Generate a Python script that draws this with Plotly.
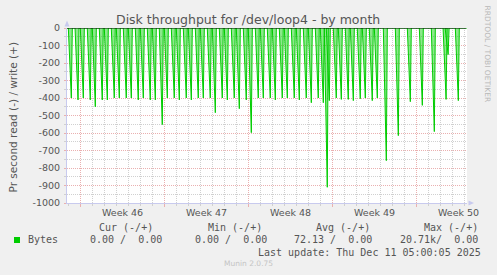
import plotly.graph_objects as go

# ---- data (x in days from the left edge of the plot, y = read bytes/s shown negative) ----
spike_day = [0.36, 0.92, 1.36, 1.94, 2.36, 2.94, 3.36, 3.94, 4.36, 4.94,
             5.36, 5.94, 6.36, 6.94, 7.36, 7.94, 8.36, 8.94, 9.36, 9.94,
             10.36, 10.94, 11.36, 11.94, 12.36, 12.94, 13.36, 13.94, 14.36, 14.94,
             15.36, 15.94, 16.36, 16.94, 17.36, 17.94, 18.36, 18.94, 19.36, 19.94,
             20.36, 20.94, 21.36, 21.69, 21.86, 22.44, 22.86, 23.44, 23.86, 24.44,
             24.86, 25.44, 25.86, 26.61, 27.61, 28.61, 29.61, 30.61, 31.59, 31.76,
             32.61]
spike_val = [-400, -411, -400, -411, -450, -411, -411, -400, -400, -400,
             -400, -411, -400, -411, -411, -552, -400, -400, -411, -400,
             -411, -400, -400, -400, -484, -400, -411, -400, -461, -411,
             -598, -400, -400, -400, -411, -400, -400, -400, -411, -400,
             -427, -400, -427, -910, -415, -400, -408, -408, -415, -404,
             -400, -415, -400, -758, -615, -421, -442, -592, -408, -152,
             -415]

x_span = 33.333
week_major = [1.083, 8.083, 15.083, 22.083, 29.083]
week_label_pos = [4.583, 11.583, 18.583, 25.583, 32.583]
week_labels = ["Week 46", "Week 47", "Week 48", "Week 49", "Week 50"]

y_tickvals = [0, -100, -200, -300, -400, -500, -600, -700, -800, -900, -1000]
y_ticktext = ["0", "-100", "-200", "-300", "-400", "-500", "-600", "-700", "-800", "-900", "-1000"]

legend_headers = ["Cur (-/+)", "Min (-/+)", "Avg (-/+)", "Max (-/+)"]
legend_values = ["0.00 /  0.00", "0.00 /  0.00", "72.13 /  0.00", "20.71k/  0.00"]
series_name = "Bytes"
last_update = "Last update: Thu Dec 11 05:00:05 2025"

# ---- geometry helpers (pixel -> paper) ----
W, H = 497, 275
L, R, T, B = 67, 467, 28, 203
def px(x):
    return (x - L) / (R - L)
def py(y):
    return (B - y) / (B - T)

# ---- build spike trace ----
xs, ys = [0.0], [0]
for t, v in zip(spike_day, spike_val):
    xs += [t - 3 / 12, t, t + 1 / 12]
    ys += [0, v, 0]
xs.append(x_span)
ys.append(0)

fig = go.Figure()
fig.add_trace(go.Scatter(
    x=xs, y=ys, mode="lines",
    line=dict(color="#00cc00", width=1),
    fill="tozeroy", fillcolor="rgba(0,204,0,0.45)",
    hoverinfo="skip", showlegend=False,
))

red_grid = "rgb(234,176,176)"
gray_grid = "rgb(208,208,208)"
axis_col = "rgb(200,202,238)"
txt = "#555555"
mono = "DejaVu Sans Mono"

fig.update_layout(
    width=W, height=H, autosize=False,
    margin=dict(l=L, r=W - R, t=T, b=H - B, pad=0),
    paper_bgcolor="#f0f0f0", plot_bgcolor="#ffffff",
    showlegend=False,
    xaxis=dict(
        range=[0, x_span], tickmode="array", tickvals=week_major,
        ticktext=[""] * len(week_major),
        showgrid=True, gridcolor=red_grid, griddash="1px,1px", gridwidth=1,
        ticks="outside", ticklen=3, tickcolor=red_grid,
        showline=True, linecolor=axis_col, linewidth=1,
        zeroline=False, fixedrange=True,
        minor=dict(tickmode="linear", tick0=0.083, dtick=1, showgrid=True,
                   gridcolor=gray_grid, griddash="1px,1px", gridwidth=1,
                   ticks="outside", ticklen=2, tickcolor=gray_grid),
    ),
    yaxis=dict(
        range=[-1000, 0], tickmode="array", tickvals=y_tickvals, ticktext=y_ticktext,
        showgrid=True, gridcolor=red_grid, griddash="1px,1px", gridwidth=1,
        ticks="outside", ticklen=2, tickcolor=red_grid,
        showline=True, linecolor=axis_col, linewidth=1,
        zeroline=False, fixedrange=True,
        tickfont=dict(family="DejaVu Sans", size=9.5, color=txt),
        ticklabelstandoff=2,
        minor=dict(tickmode="linear", tick0=0, dtick=50, showgrid=True,
                   gridcolor=gray_grid, griddash="1px,1px", gridwidth=1,
                   ticks="outside", ticklen=2, tickcolor=gray_grid),
    ),
)

shapes = []
# zero line (black) at top
shapes.append(dict(type="line", xref="paper", yref="y", x0=0, x1=px(466), y0=0, y1=0,
                   line=dict(color="black", width=1)))
# axis arrows
shapes.append(dict(type="path", xref="paper", yref="paper",
                   path=f"M {px(64.5)} {py(26.5)} L {px(69.5)} {py(26.5)} L {px(67)} {py(20.5)} Z",
                   fillcolor=axis_col, line=dict(width=0)))
shapes.append(dict(type="path", xref="paper", yref="paper",
                   path=f"M {px(468.5)} {py(200.5)} L {px(468.5)} {py(205.5)} L {px(474)} {py(203)} Z",
                   fillcolor=axis_col, line=dict(width=0)))
# legend colour box
shapes.append(dict(type="rect", xref="paper", yref="paper",
                   x0=px(14), x1=px(20), y0=py(243), y1=py(237),
                   fillcolor="#00cc00", line=dict(width=0)))
fig.update_layout(shapes=shapes)

ann = []
ann.append(dict(text="Disk throughput for /dev/loop4 - by month", xref="paper", yref="paper",
                x=px(247.5), y=py(19), xanchor="center", yanchor="middle", showarrow=False,
                font=dict(family="DejaVu Sans", size=12.5, color=txt)))
ann.append(dict(text="Pr second read (-) / write (+)", xref="paper", yref="paper",
                x=px(12), y=py(117.5), xanchor="center", yanchor="middle", showarrow=False,
                textangle=-90, font=dict(family="DejaVu Sans", size=10.5, color=txt)))
ann.append(dict(text="RRDTOOL / TOBI OETIKER", xref="paper", yref="paper",
                x=px(487), y=py(53.5), xanchor="center", yanchor="middle", showarrow=False,
                textangle=90, font=dict(family="DejaVu Sans", size=7.5, color="#b8b8b8")))
for pos, lab in zip(week_label_pos, week_labels):
    ann.append(dict(text=lab, xref="x", yref="paper", x=pos, y=py(212.5),
                    xanchor="center", yanchor="middle", showarrow=False,
                    font=dict(family="DejaVu Sans", size=9.5, color=txt)))
header_x = [98, 206.7, 315, 422.7]
value_x = [89, 194.3, 293.3, 399]
for hx, h in zip(header_x, legend_headers):
    ann.append(dict(text=h, xref="paper", yref="paper", x=px(hx - 1), y=py(227.5),
                    xanchor="left", yanchor="middle", showarrow=False,
                    font=dict(family=mono, size=10, color=txt)))
for vx, v in zip(value_x, legend_values):
    ann.append(dict(text=v.replace(" ", "&nbsp;"), xref="paper", yref="paper", x=px(vx - 1), y=py(239.5),
                    xanchor="left", yanchor="middle", showarrow=False,
                    font=dict(family=mono, size=10, color=txt)))
ann.append(dict(text=series_name, xref="paper", yref="paper", x=px(25.7), y=py(239.5),
                xanchor="left", yanchor="middle", showarrow=False,
                font=dict(family=mono, size=10, color=txt)))
ann.append(dict(text=last_update, xref="paper", yref="paper", x=px(483), y=py(252),
                xanchor="right", yanchor="middle", showarrow=False,
                font=dict(family=mono, size=10, color=txt)))
ann.append(dict(text="Munin 2.0.75", xref="paper", yref="paper", x=px(248), y=py(263.5),
                xanchor="center", yanchor="middle", showarrow=False,
                font=dict(family="DejaVu Sans", size=7.5, color="#c4c4c4")))
fig.update_layout(annotations=ann)

fig.write_html("out.html", config={"displayModeBar": False})
